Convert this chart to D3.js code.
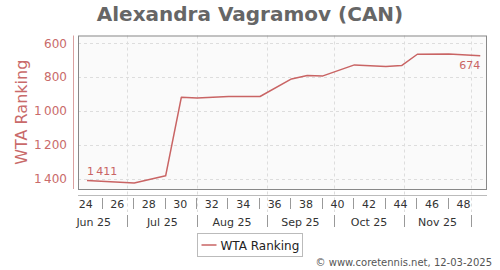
<!DOCTYPE html>
<html>
<head>
<meta charset="UTF-8">
<script src="https://d3js.org/d3.v7.min.js"></script>
<style>
  body { margin: 0; background: #fff; }
  svg { display: block; font-family: "DejaVu Sans", sans-serif; }
</style>
</head>
<body>
<svg id="chart" width="500" height="270"></svg>
<script>
    // values
    const dates = ["2025-06-13", "2025-07-04", "2025-07-18", "2025-07-25", "2025-08-01",
        "2025-08-15", "2025-08-29", "2025-09-12", "2025-09-19", "2025-09-26",
        "2025-10-10", "2025-10-24", "2025-10-31", "2025-11-07", "2025-11-21", "2025-12-05"];
    const ranking = [1411, 1427, 1384, 919, 923, 915, 915, 811, 791, 793, 728, 737, 732, 665, 663, 674];
    const yTicks = [600, 800, 1000, 1200, 1400];
    const weeks = d3.range(24, 50);
    const months = ["Jun 25", "Jul 25", "Aug 25", "Sep 25", "Oct 25", "Nov 25"];
    const monthStarts = ["2025-06-01", "2025-07-01", "2025-08-01", "2025-09-01", "2025-10-01", "2025-11-01", "2025-12-01"];

    const parse = d3.utcParse("%Y-%m-%d");
    const data = dates.map((d, i) => ({ date: parse(d), value: ranking[i] }));
    const fmt = d3.formatLocale({ decimal: ".", thousands: "\u2009", grouping: [3], currency: ["", ""] }).format(",d");

    const plotL = 78, plotR = 487, plotT = 35.5, plotB = 189;
    const lineColor = "#c96464";
    const svg = d3.select("#chart");

    const x = d3.scaleUtc().domain([parse("2025-06-09"), parse("2025-12-08")]).range([plotL, plotR]);
    const y = d3.scaleLinear().domain([554, 1462]).range([plotT, plotB]);

    // title
    svg.append("text")
        .attr("x", 250).attr("y", 21)
        .attr("text-anchor", "middle")
        .attr("font-size", 20).attr("font-weight", "bold")
        .attr("fill", "#666")
        .text("Alexandra Vagramov (CAN)");

    // plot background
    svg.append("rect")
        .attr("x", plotL).attr("y", plotT)
        .attr("width", plotR - plotL).attr("height", plotB - plotT)
        .attr("fill", "#fafafa");

    // horizontal grid
    svg.append("g").selectAll("line")
        .data(yTicks)
        .join("line")
        .attr("x1", plotL).attr("x2", plotR)
        .attr("y1", d => Math.round(y(d)) + 0.5).attr("y2", d => Math.round(y(d)) + 0.5)
        .attr("stroke", "#ddd").attr("stroke-dasharray", "3,3");

    // vertical grid at month starts (extends into axis area)
    const monthBounds = monthStarts.slice(1).map(parse);
    svg.append("g").selectAll("line")
        .data(monthBounds)
        .join("line")
        .attr("x1", d => Math.round(x(d)) + 0.5).attr("x2", d => Math.round(x(d)) + 0.5)
        .attr("y1", plotT).attr("y2", 212)
        .attr("stroke", "#ddd").attr("stroke-dasharray", "3,3");

    // plot border
    svg.append("rect")
        .attr("x", plotL + 0.5).attr("y", plotT + 0.5)
        .attr("width", plotR - plotL - 1).attr("height", plotB - plotT)
        .attr("fill", "none").attr("stroke", "#888");

    // y axis
    const yAxis = svg.append("g").attr("transform", `translate(${plotL - 5},0)`)
        .call(d3.axisLeft(y).tickValues(yTicks).tickFormat(fmt).tickSize(0).tickPadding(6));
    yAxis.select(".domain").attr("stroke", "#d9a0a0").attr("d", `M0.5,${plotT}V${plotB}`);
    yAxis.selectAll("text").attr("font-size", 12).attr("fill", "#c96a6a").attr("font-family", "DejaVu Sans");

    svg.append("text")
        .attr("transform", `translate(27,${(plotT + plotB) / 2}) rotate(-90)`)
        .attr("text-anchor", "middle")
        .attr("font-size", 16).attr("fill", "#c96a6a")
        .text("WTA Ranking");

    // x axis line
    svg.append("line")
        .attr("x1", plotL).attr("x2", plotR)
        .attr("y1", 195.5).attr("y2", 195.5)
        .attr("stroke", "#bbb");

    // week row
    const weekCenter = w => d3.utcHour.offset(parse("2025-06-09"), (w - 24) * 168 + 84);
    const weekRow = svg.append("g");
    weekRow.selectAll("text")
        .data(weeks.filter(w => w % 2 === 0))
        .join("text")
        .attr("x", w => x(weekCenter(w))).attr("y", 208)
        .attr("text-anchor", "middle")
        .attr("font-size", 11).attr("fill", "#333")
        .text(w => w);
    weekRow.selectAll("line")
        .data(weeks.filter(w => w % 2 === 1 && w < 49))
        .join("line")
        .attr("x1", w => Math.round(x(weekCenter(w))) + 0.5).attr("x2", w => Math.round(x(weekCenter(w))) + 0.5)
        .attr("y1", 198).attr("y2", 209)
        .attr("stroke", "#999");

    // month row
    const monthRow = svg.append("g");
    monthRow.selectAll("text")
        .data(months)
        .join("text")
        .attr("x", (m, i) => (x(parse(monthStarts[i])) + x(parse(monthStarts[i + 1]))) / 2)
        .attr("y", 226)
        .attr("text-anchor", "middle")
        .attr("font-size", 11).attr("fill", "#333")
        .text(m => m);
    monthRow.selectAll("line")
        .data(monthBounds)
        .join("line")
        .attr("x1", d => Math.round(x(d)) + 0.5).attr("x2", d => Math.round(x(d)) + 0.5)
        .attr("y1", 215).attr("y2", 227)
        .attr("stroke", "#999");

    // series line
    svg.append("path")
        .datum(data)
        .attr("fill", "none")
        .attr("stroke", lineColor)
        .attr("stroke-width", 1.5)
        .attr("stroke-linejoin", "round")
        .attr("d", d3.line().x(d => x(d.date)).y(d => y(d.value)));

    // first and last labels
    const first = data[0], last = data[data.length - 1];
    svg.append("text")
        .attr("x", x(first.date)).attr("y", y(first.value) - 5)
        .attr("font-size", 11).attr("fill", lineColor)
        .text(fmt(first.value));
    svg.append("text")
        .attr("x", x(last.date)).attr("y", y(last.value) + 13)
        .attr("text-anchor", "end")
        .attr("font-size", 11).attr("fill", lineColor)
        .text(fmt(last.value));

    // legend
    const legend = svg.append("g").attr("transform", "translate(197.5,233.5)");
    legend.append("rect")
        .attr("width", 105).attr("height", 23)
        .attr("fill", "#fff").attr("stroke", "#bbb");
    legend.append("line")
        .attr("x1", 4).attr("x2", 19).attr("y1", 11.5).attr("y2", 11.5)
        .attr("stroke", lineColor).attr("stroke-width", 1.5);
    legend.append("text")
        .attr("x", 23).attr("y", 16)
        .attr("font-size", 12).attr("fill", "#222")
        .text("WTA Ranking");

    // credit
    svg.append("text")
        .attr("x", 492).attr("y", 266)
        .attr("text-anchor", "end")
        .attr("font-size", 10).attr("fill", "#555")
        .text("© www.coretennis.net, 12-03-2025");
</script>
</body>
</html>
